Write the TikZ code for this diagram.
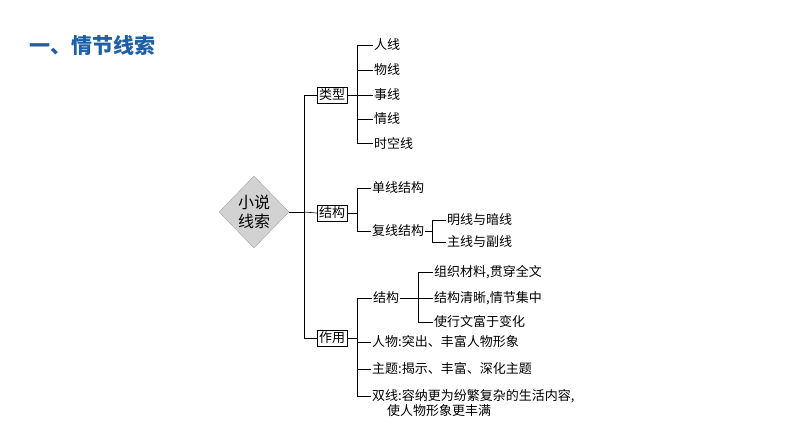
\documentclass[tikz,border=0pt]{standalone}
\usepackage{fontspec}
\setmainfont{Noto Sans CJK SC}
\usetikzlibrary{shapes.geometric}
\definecolor{titleblue}{HTML}{1F5FA6}
\begin{document}
\begin{tikzpicture}[x=1pt,y=-1pt,
  leaf/.style={anchor=west,inner sep=1pt,font=\fontsize{13}{15}\selectfont},
  boxed/.style={draw,inner sep=2pt,font=\fontsize{13}{15}\selectfont},
  link/.style={draw,line width=0.6pt}]
  \useasboundingbox (0,0) rectangle (794,447);
  %title
  \node[anchor=west,text=titleblue,font=\fontsize{21}{24}\selectfont\bfseries] (title) at (26,45) {一、情节线索};

  %root
  \node[diamond,draw=gray!70,fill=gray!35,minimum width=70,minimum height=72,inner sep=0pt,
        align=center,font=\fontsize{16}{19}\selectfont] (root) at (254,212) {小说\\线索};
  \node[boxed] (kind) at (332,95) {类型};
  \node[boxed] (form) at (332,213) {结构};
  \node[boxed] (use) at (332,338) {作用};
  \coordinate (trunk) at (304,212);
  \draw[link] (root.east) -- (trunk);
  \draw[link] (kind.west) -| (304,95) |- (use.west);
  \draw[link] (trunk) -- (form.west);

  %kinds
  \foreach \t/\y [count=\i] in {人线/45,物线/70,事线/95,情线/119,时空线/143}{
    \node[leaf] (k\i) at (373,\y) {\t};
    \draw[link] (357,\y) -- (k\i.west);
  }
  \draw[link] (kind.east) -- (357,95);
  \draw[link] (357,45) -- (357,143);

  %structures
  \node[leaf] (single) at (371,188) {单线结构};
  \node[leaf] (double) at (371,231) {复线结构};
  \draw[link] (form.east) -- (357,213);
  \draw[link] (single.west) -| (357,231) -- (double.west);
  \node[leaf] (open) at (446,220) {明线与暗线};
  \node[leaf] (main) at (446,242) {主线与副线};
  \draw[link] (double.east) -- (432,231);
  \draw[link] (open.west) -| (432,242) -- (main.west);

  %uses
  \node[leaf] (ustruct) at (372,298) {结构};
  \node[leaf] (uperson) at (371,342) {人物:突出、丰富人物形象};
  \node[leaf] (utheme) at (371,369) {主题:揭示、丰富、深化主题};
  \node[leaf] (udouble) at (371,396) {双线:容纳更为纷繁复杂的生活内容,};
  \node[leaf] (udouble2) at (386,411) {使人物形象更丰满};
  \draw[link] (use.east) -- (357,338);
  \draw[link] (ustruct.west) -| (357,396) -- (udouble.west);
  \draw[link] (357,342) -- (uperson.west);
  \draw[link] (357,369) -- (utheme.west);
  \foreach \t/\y [count=\i] in {{组织材料,贯穿全文}/272,{结构清晰,情节集中}/298,{使行文富于变化}/322}{
    \node[leaf] (s\i) at (433,\y) {\t};
    \draw[link] (418,\y) -- (s\i.west);
  }
  \draw[link] (ustruct.east) -- (418,298);
  \draw[link] (418,272) -- (418,322);
\end{tikzpicture}
\end{document}
